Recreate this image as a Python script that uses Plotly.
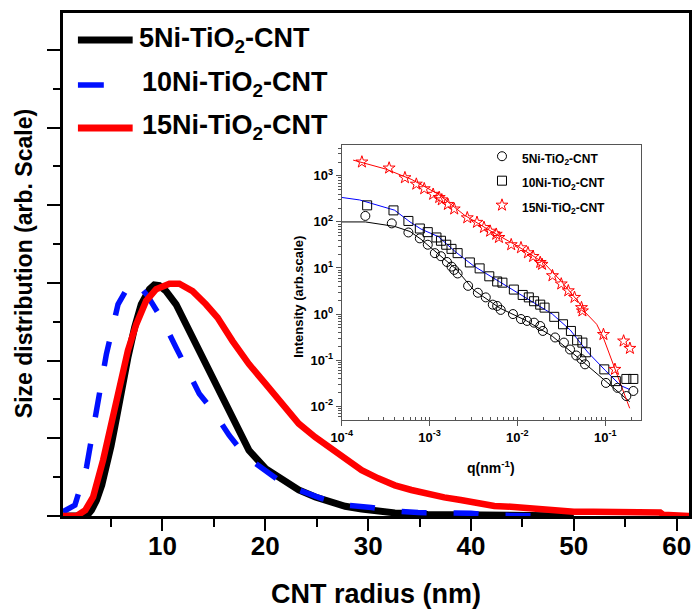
import plotly.graph_objects as go

# ---------------- main plot data (size distribution) ----------------
x_5ni = [0.33, 2.0, 2.62, 3.1, 3.59, 4.1, 4.55, 5.0, 5.36, 6.0, 6.64, 7.29, 7.94, 8.74, 9.2, 9.7,
         10.35, 11.32, 12.29, 13.58, 14.86, 15.5, 16.8, 18.41, 20.03, 21.64, 23.25, 24.86, 26.47,
         27.77, 29.37, 32.6, 35.8, 40, 45, 50]
y_5ni = [0, 0, 0, 0.15, 0.41, 0.8, 1.26, 1.8, 2.29, 3.23, 4.08, 4.85, 5.45, 5.84, 5.95, 5.93,
         5.79, 5.45, 4.94, 4.25, 3.49, 3.18, 2.5, 1.69, 1.22, 0.92, 0.67, 0.49, 0.35,
         0.25, 0.18, 0.08, 0.04, 0.02, 0.01, 0.0]

x_10ni = [0.33, 1.49, 2.62, 3.59, 4.55, 5.68, 6.81, 7.2, 7.8, 8.55, 9.07, 10.03, 11.32, 12.29, 13.58,
          15.03, 16.48, 17.77, 19.06, 21.32, 23.25, 25.5, 27.77, 30.3, 32.6, 34.85, 37, 40, 42.3,
          45, 48]
y_10ni = [0.11, 0.28, 1.26, 2.72, 4.17, 5.45, 5.97, 6.02, 5.9, 5.67, 5.45, 5.03, 4.34, 3.83, 3.15,
          2.67, 2.08, 1.65, 1.35, 0.92, 0.67, 0.45, 0.28, 0.22, 0.13, 0.09, 0.08, 0.07, 0.02,
          0.0, 0.0]

x_15ni = [0.33, 1.65, 2.5, 3.26, 4.23, 5.2, 6.0, 6.64, 7.46, 8.42, 9.39, 10.68, 11.64, 12.93, 14.22,
          15.35, 16.8, 18.41, 20.03, 21.64, 23.25, 24.86, 26.47, 27.92, 29.37, 30.98, 32.6, 34.2,
          35.8, 37.4, 39.0, 40.66, 42.27, 43.88, 45.5, 47.1, 48.7, 50, 51.9, 55.2, 58.4, 58.7, 61.2]
y_15ni = [0, 0, 0.15, 0.49, 1.44, 2.55, 3.57, 4.26, 4.94, 5.54, 5.84, 5.98, 5.98, 5.79, 5.45,
          5.11, 4.51, 3.91, 3.4, 2.89, 2.38, 2.03, 1.74, 1.44, 1.18, 0.97, 0.79, 0.67,
          0.56, 0.48, 0.41, 0.32, 0.26, 0.24, 0.2, 0.15, 0.14, 0.11, 0.11, 0.11, 0.09, 0.03, 0.0]

x_ticks = [10, 20, 30, 40, 50, 60]

# ---------------- inset data (SAXS) ----------------
q_5ni = [1.86e-4, 3.72e-4, 5.75e-4, 7.76e-4, 9.55e-4, 1.15e-3, 1.35e-3, 1.58e-3, 1.78e-3, 1.91e-3,
         2.09e-3, 2.75e-3, 3.55e-3, 4.37e-3, 5.25e-3, 5.89e-3, 6.46e-3, 8.91e-3, 0.011, 0.0129,
         0.0155, 0.0182, 0.0195, 0.0269, 0.0339, 0.0398, 0.0468, 0.0537, 0.0589, 0.102, 0.138,
         0.174, 0.209]
i_5ni = [135, 93, 59, 44, 32, 21, 18, 13.5, 10.7, 9.1, 7.6, 4.1, 2.9, 2.3, 1.6, 1.5, 1.23, 1.0,
         0.78, 0.71, 0.65, 0.55, 0.43, 0.31, 0.24, 0.17, 0.126, 0.105, 0.081, 0.032, 0.025,
         0.0166, 0.0214]
qfit_5ni = [1e-4, 1.86e-4, 4e-4, 6e-4, 8e-4, 1.26e-3, 2e-3, 3.2e-3, 6.3e-3, 0.0126, 0.025, 0.05,
            0.1, 0.19]
ifit_5ni = [100, 100, 80, 62, 42, 20, 9.5, 3.3, 1.35, 0.72, 0.33, 0.11, 0.035, 0.0125]

q_10ni = [1.95e-4, 3.89e-4, 5.75e-4, 7.76e-4, 9.55e-4, 1.2e-3, 1.35e-3, 1.55e-3, 1.78e-3, 2.09e-3,
          2.88e-3, 3.72e-3, 4.79e-3, 5.89e-3, 6.76e-3, 9.12e-3, 0.0115, 0.0135, 0.0155, 0.0182,
          0.0204, 0.0263, 0.0331, 0.0407, 0.0479, 0.055, 0.0603, 0.0977, 0.132, 0.174, 0.209]
i_10ni = [229, 178, 105, 72, 60, 46, 39, 32, 26, 21, 13.2, 9.8, 6.6, 5.1, 4.8, 3.4, 2.6, 2.3,
          1.9, 1.6, 1.38, 0.87, 0.60, 0.43, 0.27, 0.24, 0.148, 0.063, 0.035, 0.039, 0.039]
qfit_10ni = [1e-4, 1.6e-4, 4e-4, 6e-4, 8e-4, 1.26e-3, 2e-3, 3.2e-3, 6.3e-3, 0.0126, 0.025, 0.04,
             0.063, 0.1, 0.15, 0.19]
ifit_10ni = [340, 300, 180, 100, 70, 48, 22, 11, 5, 2.2, 1.0, 0.45, 0.15, 0.06, 0.028, 0.023]

q_15ni = [1.7e-4, 3.47e-4, 5.25e-4, 7.08e-4, 8.71e-4, 1.1e-3, 1.29e-3, 1.38e-3, 1.62e-3, 1.91e-3,
          2.69e-3, 3.47e-3, 4.17e-3, 4.9e-3, 5.75e-3, 6.17e-3, 8.51e-3, 0.011, 0.0132, 0.0151,
          0.0182, 0.0191, 0.0251, 0.0316, 0.038, 0.0447, 0.0537, 0.055, 0.0955, 0.129, 0.162, 0.191]
i_15ni = [2000, 1480, 912, 661, 525, 398, 339, 302, 240, 191, 123, 98, 76, 63, 54, 46, 32, 27.5,
          21.4, 17.8, 13.2, 12.0, 6.8, 4.5, 3.2, 2.3, 1.38, 1.17, 0.36, 0.063, 0.26, 0.18]
qfit_15ni = [1.35e-4, 3.2e-4, 6.3e-4, 1.26e-3, 2.5e-3, 5e-3, 0.01, 0.02, 0.032, 0.05, 0.059, 0.08,
             0.095, 0.12, 0.148, 0.19]
ifit_15ni = [2200, 1400, 830, 400, 140, 63, 30, 13, 5, 1.8, 1.1, 0.6, 0.31, 0.09, 0.032, 0.009]

inset_xticks = [1e-4, 1e-3, 1e-2, 1e-1]
inset_xticktext = ["10<sup>-4</sup>", "10<sup>-3</sup>", "10<sup>-2</sup>", "10<sup>-1</sup>"]
inset_yticks = [1e-2, 1e-1, 1, 10, 100, 1000]
inset_yticktext = ["10<sup>-2</sup>", "10<sup>-1</sup>", "10<sup>0</sup>", "10<sup>1</sup>",
                   "10<sup>2</sup>", "10<sup>3</sup>"]

names = ["5Ni-TiO<sub>2</sub>-CNT", "10Ni-TiO<sub>2</sub>-CNT", "15Ni-TiO<sub>2</sub>-CNT"]

# ---------------- layout geometry ----------------
W, H = 696, 609
ML, MR, MT, MB = 63, 4, 13, 93
PW, PH = W - ML - MR, H - MT - MB


def px(xp):
    return (xp - ML) / PW


def py(yp):
    return (H - MB - yp) / PH


FONT = "Liberation Sans, Arial, sans-serif"


def small(t):
    return '<span style="font-size:12px">' + t + '</span>'


fig = go.Figure()

# main curves
fig.add_trace(go.Scatter(x=x_5ni, y=y_5ni, mode="lines", name=names[0], showlegend=False,
                         line=dict(color="black", width=7)))
fig.add_trace(go.Scatter(x=x_10ni, y=y_10ni, mode="lines", name=names[1], showlegend=False,
                         line=dict(color="#0010ff", width=5.5, dash="25px,27px")))
fig.add_trace(go.Scatter(x=x_15ni, y=y_15ni, mode="lines", name=names[2], showlegend=False,
                         line=dict(color="#ff0000", width=6.5)))

# inset fit lines
fig.add_trace(go.Scatter(x=qfit_5ni, y=ifit_5ni, mode="lines", xaxis="x2", yaxis="y2",
                         showlegend=False, line=dict(color="black", width=1)))
fig.add_trace(go.Scatter(x=qfit_10ni, y=ifit_10ni, mode="lines", xaxis="x2", yaxis="y2",
                         showlegend=False, line=dict(color="#0000ff", width=1)))
fig.add_trace(go.Scatter(x=qfit_15ni, y=ifit_15ni, mode="lines", xaxis="x2", yaxis="y2",
                         showlegend=False, line=dict(color="#ff0000", width=1)))
# inset markers
fig.add_trace(go.Scatter(x=q_5ni, y=i_5ni, mode="markers", xaxis="x2", yaxis="y2",
                         name=small(names[0]),
                         marker=dict(symbol="circle-open", size=9, color="black",
                                     line=dict(width=1, color="black"))))
fig.add_trace(go.Scatter(x=q_10ni, y=i_10ni, mode="markers", xaxis="x2", yaxis="y2",
                         name=small(names[1]),
                         marker=dict(symbol="square-open", size=9, color="black",
                                     line=dict(width=1, color="black"))))
fig.add_trace(go.Scatter(x=q_15ni, y=i_15ni, mode="markers", xaxis="x2", yaxis="y2",
                         name=small(names[2]),
                         marker=dict(symbol="star-open", size=9, color="#ff0000",
                                     line=dict(width=1, color="#ff0000"))))

annotations = [
    dict(text="CNT radius (nm)", x=px(377), y=py(594), xref="paper", yref="paper",
         xanchor="center", yanchor="middle", showarrow=False,
         font=dict(family=FONT, size=27, color="black", weight="bold")),
    dict(text="Size distribution (arb. Scale)", x=px(24), y=py(264), xref="paper", yref="paper",
         xanchor="center", yanchor="middle", textangle=-90, showarrow=False,
         font=dict(family=FONT, size=23, color="black", weight="bold")),
    dict(text="Intensity (arb.scale)", x=px(299), y=py(297), xref="paper", yref="paper",
         xanchor="center", yanchor="middle", textangle=-90, showarrow=False,
         font=dict(family=FONT, size=13, color="black", weight="bold")),
    dict(text="q(nm<sup>-1</sup>)", x=px(493), y=py(467), xref="paper", yref="paper",
         xanchor="center", yanchor="middle", showarrow=False,
         font=dict(family=FONT, size=14, color="black", weight="bold")),
]
legend_rows = [(137, 40), (140, 84), (140, 127)]
for nm, (lx, ly) in zip(names, legend_rows):
    annotations.append(dict(text=nm, x=px(lx), y=py(ly), xref="paper", yref="paper",
                            xanchor="left", yanchor="middle", showarrow=False,
                            font=dict(family=FONT, size=27, color="black", weight="bold")))

shapes = [
    dict(type="line", xref="paper", yref="paper", x0=px(78), x1=px(133), y0=py(40), y1=py(40),
         line=dict(color="black", width=7)),
    dict(type="line", xref="paper", yref="paper", x0=px(78), x1=px(104), y0=py(85), y1=py(85),
         line=dict(color="#0010ff", width=5.5)),
    dict(type="line", xref="paper", yref="paper", x0=px(78), x1=px(133), y0=py(128), y1=py(128),
         line=dict(color="#ff0000", width=7)),
]

fig.update_layout(
    width=W, height=H,
    margin=dict(l=ML, r=MR, t=MT, b=MB, pad=0),
    paper_bgcolor="white", plot_bgcolor="white",
    font=dict(family=FONT, color="black"),
    xaxis=dict(range=[0.33, 61.2], showgrid=False, zeroline=False,
               showline=True, linewidth=2.5, linecolor="black", mirror=True,
               tickvals=x_ticks, ticks="outside", ticklen=12, tickwidth=2, tickcolor="black",
               ticklabelstandoff=-7,
               tickfont=dict(family=FONT, size=26, color="black", weight="bold"),
               minor=dict(tickvals=[5, 15, 25, 35, 45, 55], ticks="outside", ticklen=8,
                          tickwidth=2, tickcolor="black")),
    yaxis=dict(range=[0, 12.95], showgrid=False, zeroline=False, showticklabels=False,
               showline=True, linewidth=2.5, linecolor="black", mirror=True,
               dtick=2, tick0=0, ticks="outside", ticklen=13, tickwidth=2, tickcolor="black",
               minor=dict(dtick=1, tick0=0, ticks="outside", ticklen=7, tickwidth=2,
                          tickcolor="black")),
    xaxis2=dict(type="log", range=[-4, -0.59], domain=[px(343), px(644)], anchor="y2",
                showgrid=False, zeroline=False, showline=True, linewidth=1, linecolor="#555",
                mirror=True, tickvals=inset_xticks, ticktext=inset_xticktext,
                ticks="outside", ticklen=5, tickwidth=1, tickcolor="#555",
                tickfont=dict(family=FONT, size=13, color="black", weight="bold"),
                minor=dict(ticks="inside", ticklen=3, tickwidth=1, tickcolor="#555",
                           dtick="D1")),
    yaxis2=dict(type="log", range=[-2.3, 3.67], domain=[py(420), py(145)], anchor="x2",
                showgrid=False, zeroline=False, showline=True, linewidth=1, linecolor="#555",
                mirror=True, tickvals=inset_yticks, ticktext=inset_yticktext,
                ticks="outside", ticklen=5, tickwidth=1, tickcolor="#555",
                tickfont=dict(family=FONT, size=13, color="black", weight="bold"),
                minor=dict(ticks="outside", ticklen=3, tickwidth=1, tickcolor="#555",
                           dtick="D1")),
    legend=dict(x=px(484), y=py(139), xanchor="left", yanchor="top",
                bgcolor="rgba(0,0,0,0)", borderwidth=0,
                font=dict(family=FONT, size=16.5, color="black", weight="bold"),
                tracegroupgap=0, itemwidth=30),
    annotations=annotations,
    shapes=shapes,
)

fig.write_html("out.html")
